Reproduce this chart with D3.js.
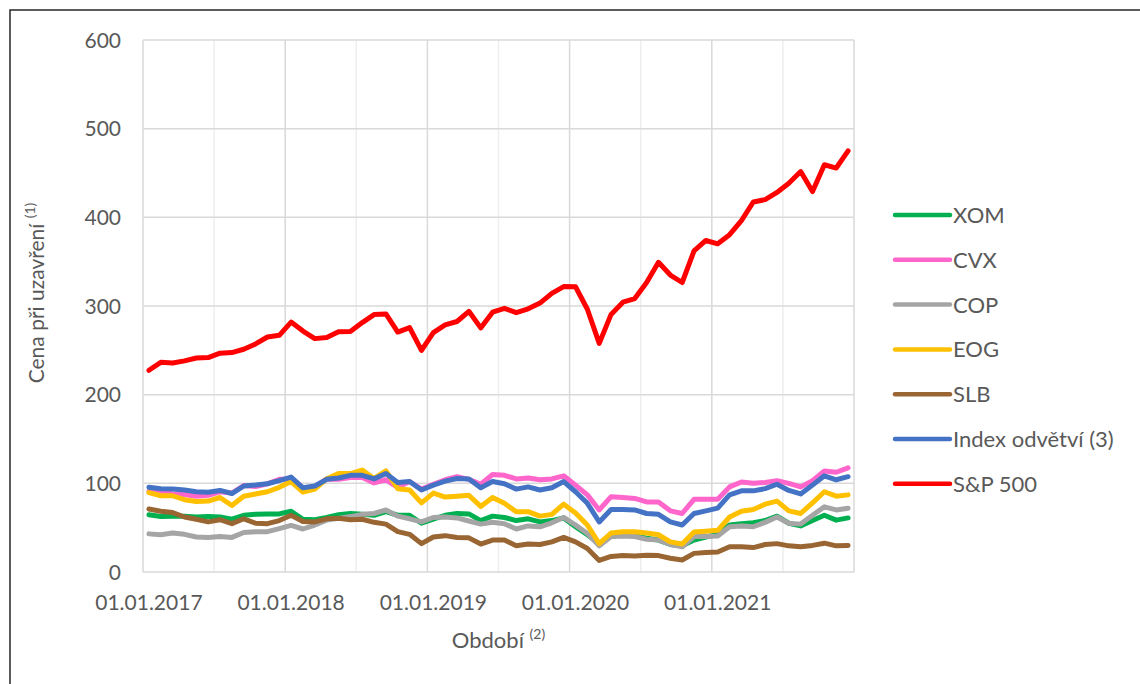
<!DOCTYPE html>
<html>
<head>
<meta charset="utf-8">
<script src="https://cdn.jsdelivr.net/npm/d3@7"></script>
<style>
  body { margin: 0; background: #fff; }
  text { font-family: Lato, "Open Sans", sans-serif; fill: #595959; }
</style>
</head>
<body>
<svg id="chart" width="1140" height="684"></svg>
<script>
// monthly categories, Jan 2017 .. Dec 2021
const months = d3.timeMonth.range(new Date(2017, 0, 1), new Date(2022, 0, 1))
const tickLabels = ["01.01.2017", "01.01.2018", "01.01.2019", "01.01.2020", "01.01.2021"]
const yTicks = [0, 100, 200, 300, 400, 500, 600]

const xom = [64.5, 62.5, 63, 63, 62, 62.5, 62, 59.5, 64, 65, 65.5, 65.5, 68.5, 59.5, 59, 61.5, 64.5, 66, 65, 64,
  68, 64, 64, 55, 59.5, 64, 66, 65.5, 58, 63, 61.5, 58, 60, 56.5, 58, 61, 51, 42, 32, 40.5,
  41.5, 41, 38, 36, 31, 29.5, 36, 39.5, 42.5, 53, 54.5, 55.5, 58, 63, 55, 52, 58, 64, 58.5, 61]
const cvx = [91, 91.5, 88, 87.5, 85.5, 86.5, 90.5, 89, 97.5, 96.5, 99.5, 104.5, 105, 95, 96, 105, 104.5, 106.5, 106.5, 100.5,
  104, 95.5, 102, 93.5, 99, 104, 107.5, 104.5, 99, 110, 109, 105, 106, 104, 105, 108.5, 98, 87, 70, 85,
  84, 83, 79, 79, 69, 66, 82, 82, 82, 96, 101.5, 100, 101, 103, 100, 96, 103, 114, 112.5, 117.5]
const cop = [43, 42, 44, 42.5, 39.5, 39, 40, 39, 44.5, 45.5, 45.5, 49, 52.5, 48.5, 53, 58.5, 60.5, 62.5, 65, 66,
  70, 63, 60, 56.5, 61.5, 62, 61, 57.5, 54, 56, 54.5, 48.5, 52, 51, 55.5, 61.5, 53, 43.5, 29.5, 40,
  40.5, 40, 37, 36, 31, 28.5, 40, 40, 40.5, 51, 52, 51, 56, 62, 55, 54, 64, 73.5, 70, 72]
const eog = [89.5, 86, 86, 81.5, 79.5, 80, 84, 75, 85.5, 88, 90.5, 95.5, 102, 90, 93.5, 105, 111, 111, 115, 105.5,
  114, 94, 92.5, 78, 89, 84.5, 85.5, 86.5, 74, 84, 77.5, 68, 68, 63, 65, 76.5, 66.5, 53, 32, 44,
  45.5, 45.5, 44, 42, 34, 31.5, 45, 46, 47, 62, 68.5, 70.5, 76.5, 80, 69, 66, 78, 90.5, 85.5, 87]
const slb = [71, 68.5, 67, 62, 59.5, 56.5, 59, 54.5, 60, 55, 54.5, 58, 64, 57, 56.5, 60, 60.5, 59, 59.5, 56,
  54, 45.5, 42.5, 32, 39.5, 41, 39, 38.5, 31.5, 36, 36, 29.5, 31.5, 31, 34, 39, 34, 26.5, 13, 17.5,
  18.5, 18, 19, 18.5, 15.5, 13.5, 21, 22, 22.5, 28.5, 28.5, 27.5, 31, 32, 29.5, 28.5, 30, 32.5, 29.5, 30]
const sectorIndex = [95.5, 94, 93.5, 92.5, 90.5, 90, 92, 88.5, 97, 98, 99.5, 103, 107, 95, 97, 104.5, 106, 109, 109, 105,
  111, 101, 102, 92.5, 98, 102.5, 105.5, 105, 95, 102, 99.5, 93.5, 96, 92.5, 95, 102, 90.5, 77.5, 56.5, 70.5,
  70.5, 70, 66, 65, 56.5, 53, 66, 69, 72, 87, 91.5, 91.5, 94, 99, 92, 88, 98, 108.5, 104, 107.5]
const sp500 = [227.5, 236.5, 235.7, 238.1, 241.4, 241.8, 246.8, 247.5, 251.2, 257.2, 265.0, 266.9, 281.9, 271.7, 263.2, 264.5, 270.9, 271.3, 281.3, 290.3,
  291.0, 270.6, 275.7, 249.9, 270.0, 278.7, 282.5, 294.0, 275.3, 293.0, 297.4, 292.5, 296.8, 303.3, 314.3, 321.9, 321.7, 296.3, 257.8, 290.5,
  304.3, 308.4, 326.5, 349.3, 334.9, 326.5, 362.1, 373.9, 370.1, 380.4, 396.3, 417.3, 420.0, 428.1, 438.5, 451.6, 429.1, 459.3, 455.6, 475.0]

const seriesNames = ["XOM", "CVX", "COP", "EOG", "SLB", "Index odvětví (3)", "S&P 500"]
const seriesValues = [xom, cvx, cop, eog, slb, sectorIndex, sp500]
const seriesColors = ["#00B050", "#FF66CC", "#A5A5A5", "#FFC000", "#996633", "#4472C4", "#FF0000"]

const series = seriesNames.map((name, i) => ({name, values: seriesValues[i], color: seriesColors[i]}))

const svg = d3.select("#chart")

// outer chart border (only top/left fall inside the picture)
svg.append("rect")
  .attr("x", 10).attr("y", 10)
  .attr("width", 1140).attr("height", 700)
  .attr("fill", "#fff")
  .attr("stroke", "#262626")
  .attr("stroke-width", 1.5)

// plot area
const plotLeft = 143, plotRight = 854, plotTop = 40, plotBottom = 572

// category scale: one slot per month
const x = d3.scaleLinear().domain([-0.5, months.length - 0.5]).range([plotLeft, plotRight])
const y = d3.scaleLinear().domain([0, 600]).range([plotBottom, plotTop])

// vertical gridlines every half year, darker on year boundaries
const vLines = d3.range(0, months.length + 1, 6)
svg.selectAll(".vgrid")
  .data(vLines)
  .join("line")
  .attr("class", "vgrid")
  .attr("x1", k => x(k - 0.5)).attr("x2", k => x(k - 0.5))
  .attr("y1", plotTop).attr("y2", plotBottom)
  .attr("stroke", k => k % 12 == 0 ? "#d9d9d9" : "#eeeeee")
  .attr("stroke-width", 1.5)

// horizontal gridlines
svg.selectAll(".hgrid")
  .data(yTicks)
  .join("line")
  .attr("class", "hgrid")
  .attr("x1", plotLeft).attr("x2", plotRight)
  .attr("y1", d => y(d)).attr("y2", d => y(d))
  .attr("stroke", "#d9d9d9")
  .attr("stroke-width", 1.5)

// y axis labels
svg.selectAll(".ylab")
  .data(yTicks)
  .join("text")
  .attr("class", "ylab")
  .attr("x", 121)
  .attr("y", d => y(d))
  .attr("dy", "0.36em")
  .attr("text-anchor", "end")
  .style("font-size", "21px")
  .text(d => d)

// x axis labels, one every 12 months, centred on the category
svg.selectAll(".xlab")
  .data(tickLabels)
  .join("text")
  .attr("class", "xlab")
  .attr("x", (d, i) => x(i * 12))
  .attr("y", 610)
  .attr("text-anchor", "middle")
  .style("font-size", "21px")
  .text(d => d)

// axis titles
const xTitle = svg.append("text")
  .attr("x", (plotLeft + plotRight) / 2)
  .attr("y", 648)
  .attr("text-anchor", "middle")
  .style("font-size", "22px")
xTitle.append("tspan").text("Období ")
xTitle.append("tspan").attr("dy", -9).style("font-size", "14px").text("(2)")

const yTitle = svg.append("text")
  .attr("transform", "translate(44, 293) rotate(-90)")
  .attr("text-anchor", "middle")
  .style("font-size", "21px")
yTitle.append("tspan").text("Cena při uzavření ")
yTitle.append("tspan").attr("dy", -9).style("font-size", "14px").text("(1)")

// series lines
const line = d3.line()
  .x((d, i) => x(i))
  .y(d => y(d))

svg.selectAll(".series")
  .data(series)
  .join("path")
  .attr("class", "series")
  .attr("d", s => line(s.values))
  .attr("fill", "none")
  .attr("stroke", s => s.color)
  .attr("stroke-width", 5)
  .attr("stroke-linejoin", "round")
  .attr("stroke-linecap", "round")

// legend
const legend = svg.selectAll(".legend")
  .data(series)
  .join("g")
  .attr("class", "legend")
  .attr("transform", (s, i) => `translate(895, ${215 + i * 44.8})`)

legend.append("line")
  .attr("x1", 0).attr("x2", 55)
  .attr("stroke", s => s.color)
  .attr("stroke-width", 4.5)
  .attr("stroke-linecap", "round")

legend.append("text")
  .attr("x", 58)
  .attr("dy", "0.36em")
  .style("font-size", "22px")
  .text(s => s.name)
</script>
</body>
</html>
